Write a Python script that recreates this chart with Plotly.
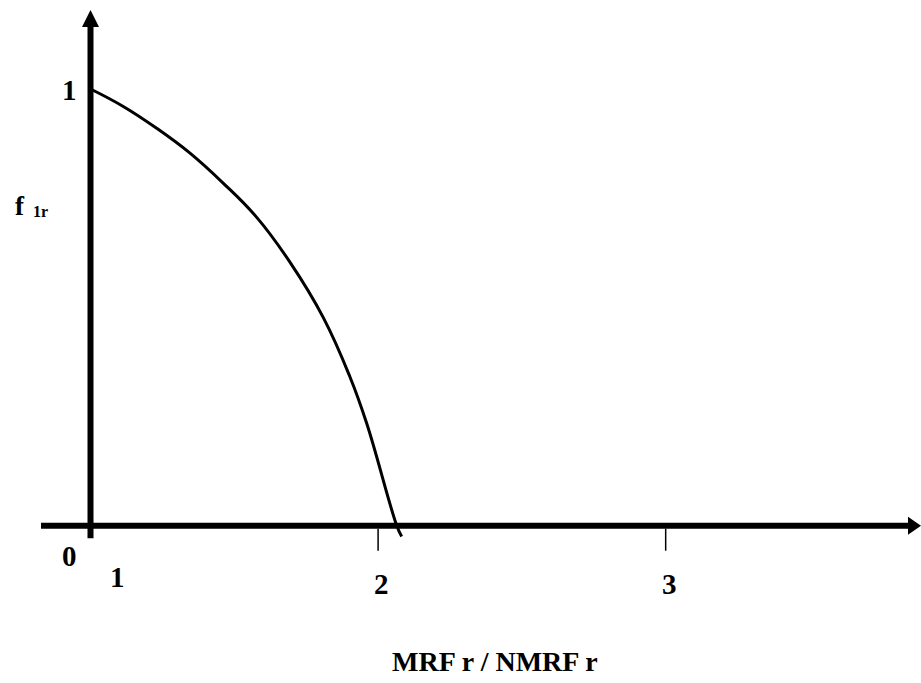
import plotly.graph_objects as go

# ---- data ----
curve_x = [1.0, 1.114, 1.23, 1.346, 1.462, 1.578, 1.694, 1.81, 1.902, 1.96, 2.065, 2.082]
curve_y = [1.0, 0.96, 0.91, 0.853, 0.784, 0.706, 0.603, 0.476, 0.341, 0.235, 0.0, -0.025]
x_tick_vals = [1, 2, 3]
x_tick_labels = ["1", "2", "3"]
y_tick_vals = [1]
y_tick_labels = ["1"]
origin_label = "0"
x_title = "MRF r / NMRF r"

X_MIN, X_MAX = 0.6853, 3.8878
Y_MIN, Y_MAX = -0.3602, 1.2038
W, H = 921, 683
px_x = (X_MAX - X_MIN) / W   # data units per pixel (x)
px_y = (Y_MAX - Y_MIN) / H   # data units per pixel (y)

FONT = "Liberation Serif, Times New Roman, serif"

fig = go.Figure()
fig.add_trace(go.Scatter(x=curve_x, y=curve_y, mode="lines",
                         line=dict(color="black", width=3, shape="spline", smoothing=1.2),
                         hoverinfo="skip", showlegend=False))

shapes = []
# y axis (extends slightly below x axis)
y_arrow_base = Y_MAX - 27 * px_y
y_arrow_tip = Y_MAX - 10 * px_y
shapes.append(dict(type="line", xref="x", yref="y", x0=1, x1=1, y0=-12.5 * px_y, y1=y_arrow_base + 2 * px_y,
                   line=dict(color="black", width=6)))
shapes.append(dict(type="path", xref="x", yref="y",
                   path=f"M {1 - 8.5*px_x},{y_arrow_base} L {1 + 8.5*px_x},{y_arrow_base} L 1,{y_arrow_tip} Z",
                   fillcolor="black", line=dict(color="black", width=0)))
# x axis
x_start = X_MIN + 41 * px_x
x_arrow_base = X_MIN + 908 * px_x
x_arrow_tip = X_MIN + 921 * px_x
shapes.append(dict(type="line", xref="x", yref="y", x0=x_start, x1=x_arrow_base + 2 * px_x, y0=0, y1=0,
                   line=dict(color="black", width=6)))
shapes.append(dict(type="path", xref="x", yref="y",
                   path=f"M {x_arrow_base},{-9*px_y} L {x_arrow_base},{9*px_y} L {x_arrow_tip},0 Z",
                   fillcolor="black", line=dict(color="black", width=0)))
# thin ticks
for tv in x_tick_vals[1:]:
    shapes.append(dict(type="line", xref="x", yref="y", x0=tv, x1=tv, y0=-3 * px_y, y1=-25 * px_y,
                       line=dict(color="black", width=1.5)))

annotations = []
lbl_font = dict(family=FONT, size=29, color="black")
# y tick label
for v, t in zip(y_tick_vals, y_tick_labels):
    annotations.append(dict(x=1 - 21.5 * px_x, y=v - 1 * px_y, xref="x", yref="y", text=f"<b>{t}</b>",
                            showarrow=False, font=lbl_font, xanchor="center", yanchor="middle"))
# origin label
annotations.append(dict(x=1 - 21.5 * px_x, y=-30 * px_y, xref="x", yref="y", text=f"<b>{origin_label}</b>",
                        showarrow=False, font=lbl_font, xanchor="center", yanchor="middle"))
# x tick labels
x_lbl_offsets = {1: (26.5, -51), 2: (3, -58), 3: (3.5, -58)}
for v, t in zip(x_tick_vals, x_tick_labels):
    dx, dy = x_lbl_offsets[v]
    annotations.append(dict(x=v + dx * px_x, y=dy * px_y, xref="x", yref="y", text=f"<b>{t}</b>",
                            showarrow=False, font=lbl_font, xanchor="center", yanchor="middle"))
# y axis title f 1r
annotations.append(dict(x=X_MIN + 13 * px_x, y=Y_MAX - 206 * px_y, xref="x", yref="y", text="<b>f</b>",
                        showarrow=False, font=dict(family=FONT, size=27, color="black"),
                        xanchor="left", yanchor="middle"))
annotations.append(dict(x=X_MIN + 31 * px_x, y=Y_MAX - 211 * px_y, xref="x", yref="y", text="<b>1r</b>",
                        showarrow=False, font=dict(family=FONT, size=16, color="black"),
                        xanchor="left", yanchor="middle"))
# x axis title
annotations.append(dict(x=X_MIN + 390 * px_x, y=Y_MAX - 661 * px_y, xref="x", yref="y", text=f"<b>{x_title}</b>",
                        showarrow=False, font=dict(family=FONT, size=28, color="black"),
                        xanchor="left", yanchor="middle"))

fig.update_layout(
    width=W, height=H,
    margin=dict(l=0, r=0, t=0, b=0),
    paper_bgcolor="white", plot_bgcolor="white",
    xaxis=dict(range=[X_MIN, X_MAX], visible=False, fixedrange=True),
    yaxis=dict(range=[Y_MIN, Y_MAX], visible=False, fixedrange=True),
    shapes=shapes, annotations=annotations, showlegend=False,
)

fig.write_html("out.html", config={"displayModeBar": False, "staticPlot": True},
               post_script="document.body.style.margin='0';document.body.style.overflow='hidden';")
